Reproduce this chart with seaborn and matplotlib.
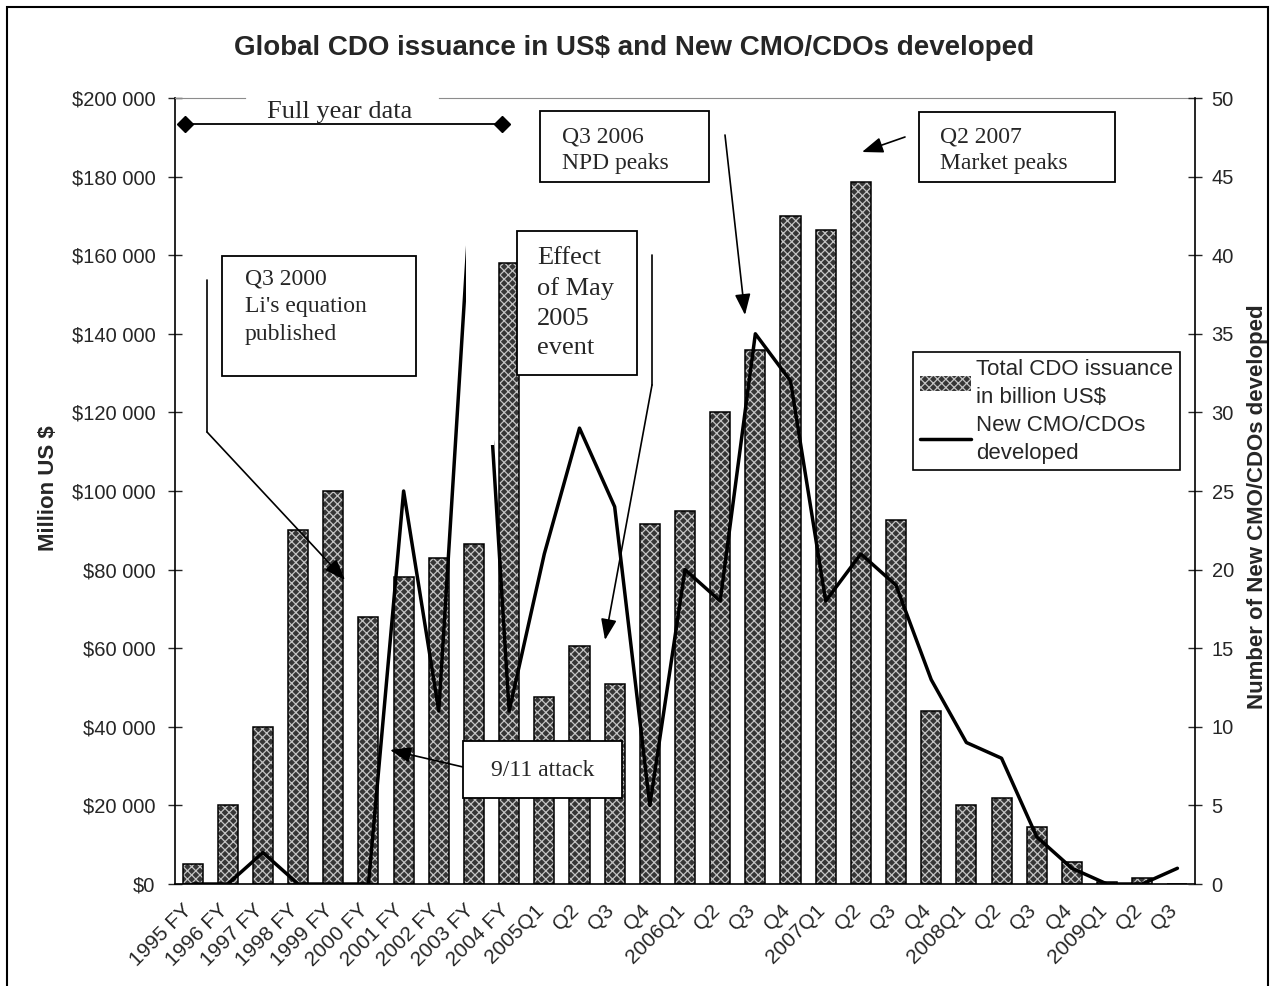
import numpy as np
import pandas as pd
import matplotlib
matplotlib.use("Agg")
import matplotlib.pyplot as plt
import seaborn as sns
from matplotlib.patches import Rectangle, FancyArrowPatch
from matplotlib.lines import Line2D
from matplotlib.ticker import FuncFormatter, MultipleLocator
from matplotlib.transforms import ScaledTranslation

# data
periods = ["1995 FY", "1996 FY", "1997 FY", "1998 FY", "1999 FY",
           "2000 FY", "2001 FY", "2002 FY", "2003 FY", "2004 FY",
           "2005Q1", "2005Q2", "2005Q3", "2005Q4",
           "2006Q1", "2006Q2", "2006Q3", "2006Q4",
           "2007Q1", "2007Q2", "2007Q3", "2007Q4",
           "2008Q1", "2008Q2", "2008Q3", "2008Q4",
           "2009Q1", "2009Q2", "2009Q3"]
tick_labels = ["1995 FY", "1996 FY", "1997 FY", "1998 FY", "1999 FY",
               "2000 FY", "2001 FY", "2002 FY", "2003 FY", "2004 FY",
               "2005Q1", "Q2", "Q3", "Q4",
               "2006Q1", "Q2", "Q3", "Q4",
               "2007Q1", "Q2", "Q3", "Q4",
               "2008Q1", "Q2", "Q3", "Q4",
               "2009Q1", "Q2", "Q3"]
issuance = [5000, 20000, 40000, 90000, 100000, 68000, 78000, 83000, 86500, 158000,
            47500, 60500, 51000, 91500, 95000, 120000, 136000, 170000, 166500, 178500,
            92500, 44000, 20000, 22000, 14500, 5500, 500, 1500, 0]
new_cmo_cdos = [0, 0, 2, 0, 0, 0, 25, 11, 47, 11,
                21, 29, 24, 5, 20, 18, 35, 32, 18, 21,
                19, 13, 9, 8, 3, 1, 0, 0, 1]

title = "Global CDO issuance in US$ and New CMO/CDOs developed"
legend_labels = ["Total CDO issuance\nin billion US$", "New CMO/CDOs\ndeveloped"]

W, H = 1276, 986
SANS = ["Liberation Sans", "DejaVu Sans"]
SERIF = ["Liberation Serif", "DejaVu Serif"]

sns.set_style("white")
plt.rcParams["font.family"] = SANS
plt.rcParams["hatch.linewidth"] = 0.9


def fpx(x, y):
    # pixel position (from top-left) -> figure fraction
    return (x / W, 1 - y / H)


df = pd.DataFrame({"period": periods, "issuance": issuance, "new": new_cmo_cdos})
n = len(periods)

fig = plt.figure(figsize=(W / 100, H / 100), dpi=100)
ax = fig.add_axes([175 / W, 1 - 884 / H, (1195 - 175) / W, (884 - 98) / H])

# patterned bars, then black outlines on top
sns.barplot(data=df, x="period", y="issuance", order=periods, color="#363636",
            saturation=1, width=0.57, edgecolor="#c4c4c4", linewidth=0,
            hatch="xxxx", errorbar=None, ax=ax)
sns.barplot(data=df, x="period", y="issuance", order=periods, color="black",
            fill=False, width=0.57, linewidth=1.1, errorbar=None, ax=ax)

ax2 = ax.twinx()
sns.lineplot(x=np.arange(n), y=df["new"], ax=ax2, color="black", linewidth=2.5)

ax.set_xlim(-0.5, n - 0.5)
ax.set_ylim(0, 200000)
ax2.set_ylim(0, 50)

# hidden part of the 2003 spike (covered in the original)
ax2.add_patch(Rectangle((7.76, 27.9), 0.81, 21.9, facecolor="white",
                        edgecolor="none", zorder=3))

# axes styling
for a in (ax, ax2):
    for s in a.spines.values():
        s.set_visible(False)
ax.spines["left"].set_visible(True)
ax.spines["bottom"].set_visible(True)
ax.spines["top"].set_visible(True)
ax.spines["top"].set_color("#8c8c8c")
ax2.spines["right"].set_visible(True)
for s in (ax.spines["left"], ax.spines["bottom"], ax2.spines["right"]):
    s.set_color("black")
    s.set_linewidth(1.2)

ax.set_xticks(range(n))
ax.set_xticklabels(tick_labels, rotation=45, ha="right", va="top",
                   rotation_mode="anchor", fontsize=15)
ax.tick_params(axis="x", which="major", length=0, pad=12)
ax.set_xticks(np.arange(-0.5, n), minor=True)
ax.tick_params(axis="x", which="minor", length=10, width=1, direction="inout")
shift = ScaledTranslation(-10 / 100, 0, fig.dpi_scale_trans)
for lab in ax.get_xticklabels():
    lab.set_transform(lab.get_transform() + shift)

ax.yaxis.set_major_locator(MultipleLocator(20000))
ax.yaxis.set_major_formatter(FuncFormatter(lambda v, p: "$" + f"{v:,.0f}".replace(",", " ")))
ax.tick_params(axis="y", direction="inout", length=10, width=1, labelsize=14.5, pad=9)
ax2.yaxis.set_major_locator(MultipleLocator(5))
ax2.tick_params(axis="y", direction="inout", length=10, width=1, labelsize=14.5, pad=7)

ax.set_xlabel("")
ax.set_ylabel("Million US $", fontsize=16, fontweight="bold")
ax.yaxis.set_label_coords(-0.114, 0.504)
ax2.set_ylabel("Number of New CMO/CDOs developed", fontsize=16, fontweight="bold")
ax2.yaxis.set_label_coords(1.051, 0.48)

# legend
handles = [ax.patches[0], ax2.lines[0]]
leg = ax2.legend(handles, legend_labels, loc="upper left",
                 bbox_to_anchor=fpx(913, 352), bbox_transform=fig.transFigure,
                 frameon=True, fancybox=False, edgecolor="black", framealpha=1,
                 fontsize=16, handlelength=2.3, handletextpad=0.25,
                 borderpad=0.3, labelspacing=0.3, borderaxespad=0)
leg.get_frame().set_linewidth(1.2)
for t in leg.get_texts():
    t.set_linespacing(1.45)

fig.text(*fpx(634, 48), title, ha="center", va="center", fontsize=20,
         fontweight="bold")


# annotations in pixel positions
def box(x0, y0, x1, y1, edge="black"):
    fig.add_artist(Rectangle(fpx(x0, y1), (x1 - x0) / W, (y1 - y0) / H,
                             transform=fig.transFigure, facecolor="white",
                             edgecolor=edge, linewidth=1.3, zorder=5))


def note(x, y, text, size, ha="left", va="top", spacing=1.35):
    fig.text(*fpx(x, y), text, fontsize=size, family=SERIF, ha=ha, va=va,
             linespacing=spacing, zorder=6)


def callout(points):
    for (xa, ya), (xb, yb) in zip(points[:-2], points[1:-1]):
        fig.add_artist(Line2D([xa / W, xb / W], [1 - ya / H, 1 - yb / H],
                              transform=fig.transFigure, color="black",
                              linewidth=1.2, zorder=5))
    fig.add_artist(FancyArrowPatch(fpx(*points[-2]), fpx(*points[-1]),
                                   transform=fig.transFigure,
                                   arrowstyle="-|>,head_length=0.8,head_width=0.3",
                                   mutation_scale=16, color="black",
                                   linewidth=1.2, shrinkA=0, shrinkB=0, zorder=5))


# full year data bracket
box(247, 94, 438, 119, edge="white")
fig.add_artist(Line2D([185 / W, 502 / W], [1 - 124 / H, 1 - 124 / H],
                      transform=fig.transFigure, color="black", linewidth=1.3,
                      marker="D", markersize=8, zorder=6))
note(340, 118, "Full year data", 19, ha="center", va="baseline")

box(222, 256, 416, 376)
note(245, 269, "Q3 2000\nLi's equation\npublished", 17, spacing=1.4)
callout([(207, 280), (207, 432), (345, 580)])

box(517, 231, 637, 375)
note(537, 247, "Effect\nof May\n2005\nevent", 19, spacing=1.45)
callout([(652, 255), (652, 385), (605, 640)])

callout([(463, 767), (390, 750)])
box(463, 741, 622, 798)
note(543, 770, "9/11 attack", 17, ha="center", va="center")

box(540, 111, 709, 182)
note(562, 126, "Q3 2006\nNPD peaks", 17)
callout([(725, 135), (745, 315)])

box(919, 112, 1115, 182)
note(940, 126, "Q2 2007\nMarket peaks", 17)
callout([(905, 137), (862, 152)])

# outer frame
fig.add_artist(Rectangle((7 / W, -0.01), (1268 - 7) / W, 1.01 - 7 / H,
                         transform=fig.transFigure, fill=False,
                         edgecolor="black", linewidth=1.5, zorder=10))

fig.savefig("out.png", dpi=100)
